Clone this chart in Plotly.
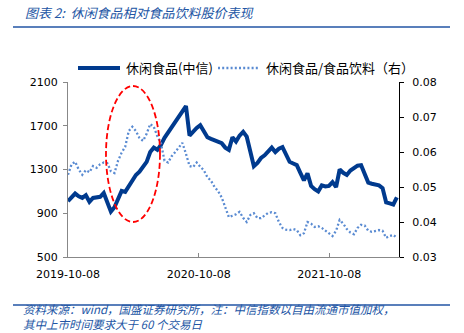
import pandas as pd
import plotly.graph_objects as go

start_date = "2019-10-08"
n_points = 93
dates = pd.date_range(start_date, periods=n_points, freq="10D")

snack_index = [
    1010, 1040, 1080, 1055, 1040, 1065, 1005, 1040, 1045, 1050,
    1085, 1005, 915, 955, 1040, 1105, 1095, 1150, 1210, 1250,
    1280, 1320, 1370, 1460, 1500, 1480, 1525, 1590, 1640, 1690,
    1735, 1790, 1830, 1880, 1610, 1650, 1680, 1705, 1640, 1595,
    1580, 1565, 1545, 1540, 1500, 1480, 1595, 1555, 1610, 1645,
    1600, 1450, 1330, 1360, 1405, 1430, 1470, 1500, 1460, 1490,
    1505, 1440, 1370, 1355, 1340, 1270, 1200, 1265, 1150, 1120,
    1100, 1155, 1145, 1150, 1185, 1140, 1300, 1270, 1250, 1290,
    1315, 1335, 1340, 1250, 1180, 1170, 1160, 1155, 1130, 1000,
    990, 980, 1045,
]

relative_ratio = [
    0.0535, 0.0565, 0.0572, 0.0550, 0.0535, 0.0548, 0.0542, 0.0560, 0.0555, 0.0565,
    0.0570, 0.0568, 0.0545, 0.0540, 0.0575, 0.0598, 0.0615, 0.0660, 0.0672, 0.0660,
    0.0640, 0.0632, 0.0652, 0.0680, 0.0672, 0.0645, 0.0625, 0.0575, 0.0570, 0.0588,
    0.0600, 0.0612, 0.0626, 0.0595, 0.0560, 0.0557, 0.0570, 0.0558, 0.0548, 0.0528,
    0.0518, 0.0500, 0.0488, 0.0470, 0.0440, 0.0414, 0.0418, 0.0422, 0.0429, 0.0412,
    0.0400, 0.0420, 0.0425, 0.0411, 0.0411, 0.0418, 0.0426, 0.0428, 0.0425, 0.0400,
    0.0383, 0.0378, 0.0377, 0.0380, 0.0377, 0.0362, 0.0368, 0.0400, 0.0395, 0.0386,
    0.0388, 0.0383, 0.0375, 0.0369, 0.0360, 0.0375, 0.0406, 0.0395, 0.0380, 0.0370,
    0.0365, 0.0383, 0.0392, 0.0390, 0.0375, 0.0372, 0.0375, 0.0377, 0.0375, 0.0355,
    0.0360, 0.0363, 0.0355,
]

x_tick_labels = ["2019-10-08", "2020-10-08", "2021-10-08"]
left_ticks = [500, 900, 1300, 1700, 2100]
right_ticks = [0.03, 0.04, 0.05, 0.06, 0.07, 0.08]

name_main = "休闲食品(中信)"
name_ratio = "休闲食品/食品饮料（右）"
title_text = "图表 2:  休闲食品相对食品饮料股价表现"
source_line1 = "资料来源：wind，国盛证券研究所，注：中信指数以自由流通市值加权，"
source_line2 = "其中上市时间要求大于 60 个交易日"

# ---- styling ----
W, H = 464, 333
L, R, T, B = 68, 399, 82, 257   # plot area in pixels
MAIN_C = "#003A8E"
RATIO_C = "#5A8BD2"
TITLE_C = "#2255A4"
CJK = "Noto Sans CJK SC"
NUM = "DejaVu Sans"


def px(x):
    return (x - L) / (R - L)


def py(y):
    return (B - y) / (B - T)


fig = go.Figure()
fig.add_trace(go.Scatter(
    x=dates, y=snack_index, name=name_main, mode="lines",
    line=dict(color=MAIN_C, width=4), showlegend=False,
))
fig.add_trace(go.Scatter(
    x=dates, y=relative_ratio, name=name_ratio, mode="lines", yaxis="y2",
    line=dict(color=RATIO_C, width=2.3, dash="2px,2.2px"), showlegend=False,
))

shapes = [
    # title rule and footer rule
    dict(type="line", xref="paper", yref="paper", x0=px(13), x1=px(450), y0=py(27), y1=py(27),
         line=dict(color=TITLE_C, width=1.6)),
    dict(type="line", xref="paper", yref="paper", x0=px(13), x1=px(450), y0=py(305), y1=py(305),
         line=dict(color=TITLE_C, width=1.6)),
    # legend samples
    dict(type="line", xref="paper", yref="paper", x0=px(78), x1=px(120), y0=py(68), y1=py(68),
         line=dict(color=MAIN_C, width=4)),
    dict(type="line", xref="paper", yref="paper", x0=px(218), x1=px(260), y0=py(68), y1=py(68),
         line=dict(color=RATIO_C, width=2.3, dash="2px,2.2px")),
    # red dashed ellipse
    dict(type="circle", xref="paper", yref="paper", x0=px(106), x1=px(160), y0=py(222), y1=py(86),
         line=dict(color="#FF0000", width=1.8, dash="6px,3px")),
]

annotations = [
    dict(text="<i>" + title_text + "</i>", xref="paper", yref="paper", x=px(23), y=py(13),
         xanchor="left", yanchor="middle", showarrow=False,
         font=dict(family=CJK, size=13, color=TITLE_C)),
    dict(text=name_main, xref="paper", yref="paper", x=px(124), y=py(68),
         xanchor="left", yanchor="middle", showarrow=False,
         font=dict(family=CJK, size=13, color="#000000")),
    dict(text=name_ratio, xref="paper", yref="paper", x=px(264), y=py(68),
         xanchor="left", yanchor="middle", showarrow=False,
         font=dict(family=CJK, size=13, color="#000000")),
    dict(text="<i>" + source_line1 + "<br>" + source_line2 + "</i>",
         xref="paper", yref="paper", x=px(22), y=py(333),
         xanchor="left", yanchor="bottom", align="left", showarrow=False, borderpad=0,
         font=dict(family=CJK, size=11.5, color=TITLE_C)),
]

fig.update_layout(
    width=W, height=H,
    margin=dict(l=L, r=W - R, t=T, b=H - B, pad=0),
    paper_bgcolor="white", plot_bgcolor="white",
    showlegend=False,
    xaxis=dict(
        type="date", range=["2019-10-08", "2022-04-21"],
        tickvals=x_tick_labels, ticktext=x_tick_labels,
        ticks="inside", ticklen=4, tickcolor="#888888",
        ticklabelstandoff=7,
        showline=True, linecolor="#888888", linewidth=1,
        showgrid=False, zeroline=False,
        tickfont=dict(family=NUM, size=11, color="#000000"),
    ),
    yaxis=dict(
        range=[500, 2100], tickvals=left_ticks,
        ticks="outside", ticklen=4, tickcolor="#888888",
        ticklabelstandoff=3,
        showline=True, linecolor="#888888", linewidth=1,
        showgrid=False, zeroline=False,
        tickfont=dict(family=NUM, size=11, color="#000000"),
    ),
    yaxis2=dict(
        range=[0.03, 0.08], tickvals=right_ticks, tickformat=".2f",
        overlaying="y", side="right",
        ticks="outside", ticklen=4, tickcolor="#000000",
        ticklabelstandoff=6,
        showline=True, linecolor="#000000", linewidth=1,
        showgrid=False, zeroline=False,
        tickfont=dict(family=NUM, size=11, color="#000000"),
    ),
    shapes=shapes,
    annotations=annotations,
)

fig.write_html("out.html")
